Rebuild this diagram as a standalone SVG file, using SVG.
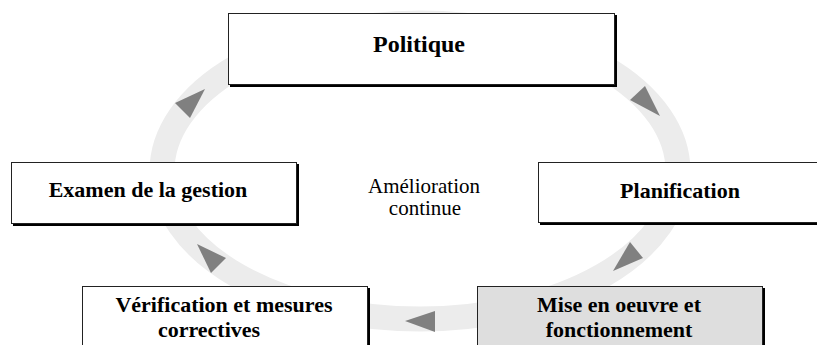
<svg xmlns="http://www.w3.org/2000/svg" width="817" height="345" viewBox="0 0 817 345">
<style>
.box{stroke:#222;stroke-width:1}
.sh{fill:#000}
.ah{fill:#808080}
text{font-family:"Liberation Serif","Times New Roman",serif}
</style>
<rect width="817" height="345" fill="#fff"/>
<g id="connectors">
<ellipse cx="420" cy="171" rx="258" ry="148" fill="none" stroke="#ececec" stroke-width="25"/>
<polygon class="ah" points="175,103 190,118 205,89"/>
<polygon class="ah" points="630,100 645,86 660,116"/>
<polygon class="ah" points="630,242 643,258 613,271"/>
<polygon class="ah" points="435,311 435,332 405,321"/>
<polygon class="ah" points="226,258 211,273 197,244"/>
</g>
<g font-weight="bold" font-size="22" text-anchor="middle" fill="#000">
<g id="politique">
<rect class="sh" x="230" y="15" width="387" height="72"/>
<rect class="box" x="228.5" y="13.5" width="386" height="71" fill="#fff"/>
<text x="419" y="52" font-size="24">Politique</text>
</g>
<g id="examen">
<rect class="sh" x="13" y="164" width="286" height="62"/>
<rect class="box" x="11.5" y="162.5" width="285" height="61" fill="#fff"/>
<text x="148" y="197">Examen de la gestion</text>
</g>
<g id="planification">
<rect class="sh" x="540" y="164" width="290" height="61"/>
<rect class="box" x="538.5" y="162.5" width="290" height="60" fill="#fff"/>
<text x="680" y="198">Planification</text>
</g>
<g id="verification">
<rect class="sh" x="84" y="288" width="286" height="70"/>
<rect class="box" x="82.5" y="286.5" width="285" height="70" fill="#fff"/>
<text x="224" y="312">Vérification et mesures</text>
<text x="209" y="337">correctives</text>
</g>
<g id="mise">
<rect class="sh" x="479" y="288" width="286" height="70"/>
<rect class="box" x="477.5" y="286.5" width="285" height="70" fill="#dedede"/>
<text x="619" y="312">Mise en oeuvre et</text>
<text x="619" y="337">fonctionnement</text>
</g>
<g id="amelioration" font-weight="normal" font-size="21">
<text x="424" y="193">Amélioration</text>
<text x="425" y="215">continue</text>
</g>
</g>
</svg>
